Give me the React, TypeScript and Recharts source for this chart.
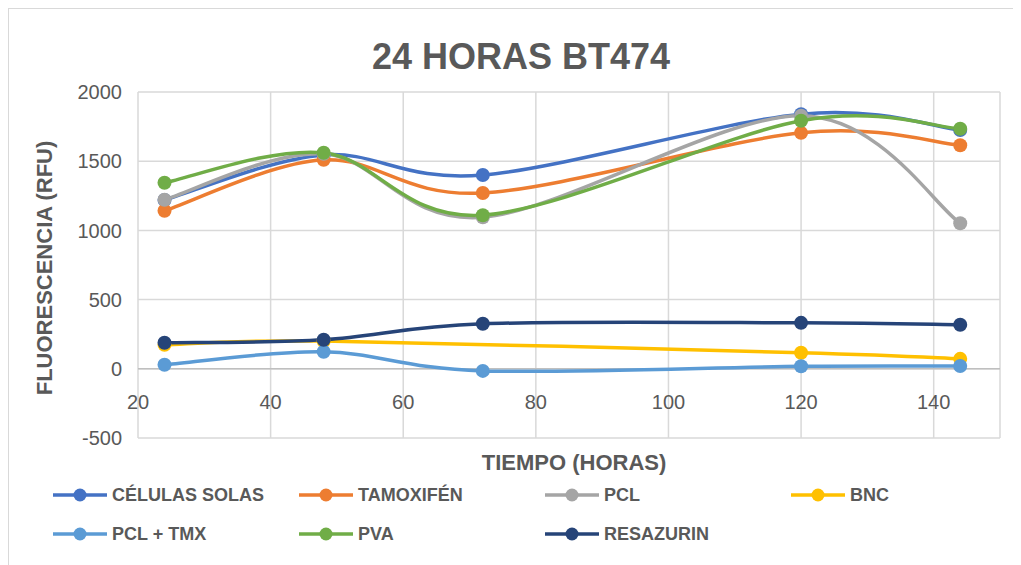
import React, { useEffect } from 'react';
import {
  LineChart,
  Line,
  XAxis,
  YAxis,
  CartesianGrid,
  ReferenceLine,
} from 'recharts';

// Horas de medición
const horas = [24, 48, 72, 120, 144];

// Fluorescencia (RFU) por tratamiento
const celulasSolas = [1220, 1545, 1400, 1840, 1725];
const tamoxifen = [1142, 1510, 1270, 1705, 1615];
const pcl = [1221, 1553, 1095, 1828, 1052];
const bnc = [173, 200, null, 116, 72];
const pclTmx = [29, 123, -15, 18, 20];
const pva = [1344, 1561, 1110, 1792, 1734];
const resazurin = [188, 210, 325, 332, 318];

const xTicks = [20, 40, 60, 80, 100, 120, 140];
const yTicks = [-500, 0, 500, 1000, 1500, 2000];

const series = [
  { key: 'celulas', name: 'CÉLULAS SOLAS', color: '#4472C4', values: celulasSolas },
  { key: 'tamoxifen', name: 'TAMOXIFÉN', color: '#ED7D31', values: tamoxifen },
  { key: 'pcl', name: 'PCL', color: '#A5A5A5', values: pcl },
  { key: 'bnc', name: 'BNC', color: '#FFC000', values: bnc },
  { key: 'pclTmx', name: 'PCL + TMX', color: '#5B9BD5', values: pclTmx },
  { key: 'pva', name: 'PVA', color: '#70AD47', values: pva },
  { key: 'resazurin', name: 'RESAZURIN', color: '#264478', values: resazurin },
];

const data = horas.map((h, i) => {
  const row: Record<string, number | null> = { hora: h };
  series.forEach((s) => {
    row[s.key] = s.values[i];
  });
  return row;
});

const FONT = "'Liberation Sans', Arial, sans-serif";
const TEXT = '#595959';

// Excel-style smoothed line (Catmull-Rom through the points)
function excelSmooth(context: any) {
  let pts: number[][] = [];
  return {
    areaStart() {},
    areaEnd() {},
    lineStart() {
      pts = [];
    },
    point(x: number, y: number) {
      pts.push([+x, +y]);
    },
    lineEnd() {
      if (!pts.length) return;
      context.moveTo(pts[0][0], pts[0][1]);
      for (let i = 0; i < pts.length - 1; i++) {
        const p0 = pts[i - 1] || pts[i];
        const p1 = pts[i];
        const p2 = pts[i + 1];
        const p3 = pts[i + 2] || pts[i + 1];
        context.bezierCurveTo(
          p1[0] + (p2[0] - p0[0]) / 6,
          p1[1] + (p2[1] - p0[1]) / 6,
          p2[0] - (p3[0] - p1[0]) / 6,
          p2[1] - (p3[1] - p1[1]) / 6,
          p2[0],
          p2[1]
        );
      }
    },
  };
}

// x tick labels sit just under the y=0 line, like Excel does
function XTick(props: any) {
  const { x, payload } = props;
  return (
    <text x={x} y={400} textAnchor="middle" fill={TEXT} fontSize={20} fontFamily={FONT}>
      {payload.value}
    </text>
  );
}

function LegendBox() {
  const cols = [43, 289, 535, 781];
  return (
    <div style={{ position: 'absolute', left: 0, top: 474, width: 1000, height: 80 }}>
      {series.map((s, i) => {
        const left = cols[i % 4];
        const top = i < 4 ? 0 : 39;
        return (
          <div
            key={s.key}
            style={{ position: 'absolute', left, top, display: 'flex', alignItems: 'center', height: 24 }}
          >
            <svg width={56} height={16}>
              <line x1={1} y1={8} x2={55} y2={8} stroke={s.color} strokeWidth={3.5} />
              <circle cx={28} cy={8} r={6.5} fill={s.color} />
            </svg>
            <span
              style={{
                marginLeft: 4,
                fontFamily: FONT,
                fontWeight: 700,
                fontSize: 18,
                color: TEXT,
                whiteSpace: 'nowrap',
              }}
            >
              {s.name}
            </span>
          </div>
        );
      })}
    </div>
  );
}

export default function App() {
  useEffect(() => {
    document.body.style.overflow = 'hidden';
  }, []);

  return (
    <div
      style={{
        position: 'relative',
        width: 1013,
        height: 560,
        border: '1px solid #d9d9d9',
        background: '#fff',
        fontFamily: FONT,
      }}
    >
      <div
        style={{
          position: 'absolute',
          left: 0,
          width: 1024,
          top: 27,
          textAlign: 'center',
          fontSize: 36,
          fontWeight: 700,
          color: TEXT,
          lineHeight: '41px',
        }}
      >
        24 HORAS BT474
      </div>
      <div
        style={{
          position: 'absolute',
          left: 36,
          top: 259,
          transform: 'translate(-50%, -50%) rotate(-90deg)',
          whiteSpace: 'nowrap',
          fontSize: 22,
          fontWeight: 700,
          color: TEXT,
        }}
      >
        FLUORESCENCIA (RFU)
      </div>
      <div
        style={{
          position: 'absolute',
          left: 565,
          top: 441,
          transform: 'translateX(-50%)',
          whiteSpace: 'nowrap',
          fontSize: 22,
          fontWeight: 700,
          color: TEXT,
          lineHeight: '25px',
        }}
      >
        TIEMPO (HORAS)
      </div>
      <LineChart
        width={1011}
        height={555}
        data={data}
        margin={{ top: 83, right: 20, bottom: 106, left: 69 }}
      >
        <CartesianGrid stroke="#d9d9d9" strokeWidth={1.5} />
        <XAxis
          dataKey="hora"
          type="number"
          domain={[20, 150]}
          ticks={xTicks}
          axisLine={false}
          tickLine={false}
          tick={<XTick />}
          height={20}
        />
        <YAxis
          type="number"
          domain={[-500, 2000]}
          ticks={yTicks}
          axisLine={false}
          tickLine={false}
          width={60}
          tickMargin={10}
          tick={{ fill: TEXT, fontSize: 20, fontFamily: FONT }}
        />
        <ReferenceLine y={0} stroke="#bfbfbf" strokeWidth={1.5} />
        {series.map((s) => (
          <Line
            key={s.key}
            type={excelSmooth as any}
            dataKey={s.key}
            name={s.name}
            stroke={s.color}
            strokeWidth={3.5}
            dot={{ r: 7, fill: s.color, stroke: s.color, strokeWidth: 0 }}
            activeDot={false}
            connectNulls
            isAnimationActive={false}
          />
        ))}
      </LineChart>
      <LegendBox />
    </div>
  );
}
